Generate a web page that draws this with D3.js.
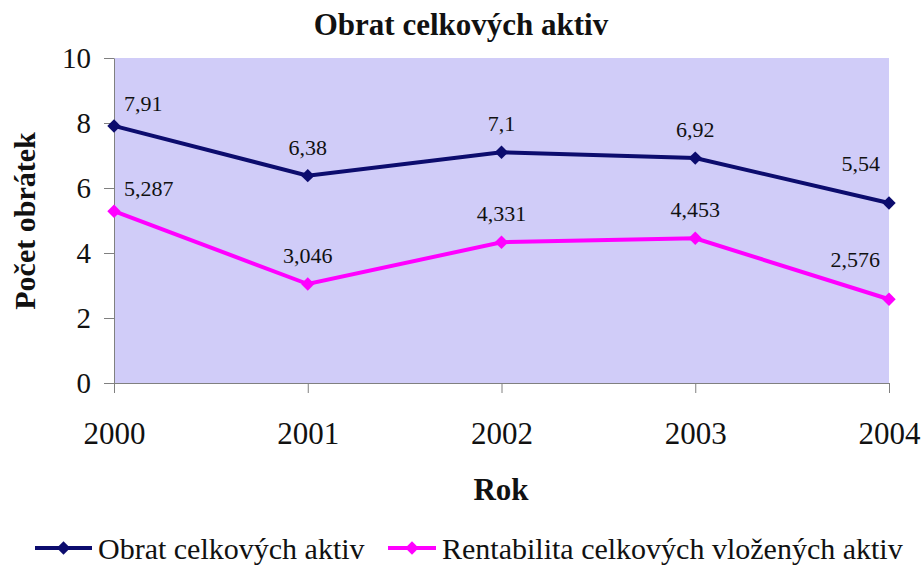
<!DOCTYPE html>
<html>
<head>
<meta charset="utf-8">
<script src="https://cdn.jsdelivr.net/npm/d3@7"></script>
<style>
  body { margin: 0; background: #fff; }
  svg text { font-family: "Liberation Serif", "Times New Roman", serif; fill: #111; }
</style>
</head>
<body>
<div id="chart"></div>
<script>
const years = ['2000', '2001', '2002', '2003', '2004'];
const obratValues = [7.91, 6.38, 7.1, 6.92, 5.54];
const rentabilitaValues = [5.287, 3.046, 4.331, 4.453, 2.576];
const yTicks = [0, 2, 4, 6, 8, 10];
const seriesNames = ['Obrat celkových aktiv', 'Rentabilita celkových vložených aktiv'];
const seriesColors = ['#0c0c6e', '#ff00ff'];

(function() {
    const width = 922, height = 567;
    const margin = {top: 58, right: 33, bottom: 184, left: 114};

    const svg = d3.select('#chart').append('svg')
        .attr('width', width)
        .attr('height', height);

    const x = d3.scalePoint().domain(years).range([margin.left, width - margin.right]);
    const y = d3.scaleLinear().domain([0, 10]).range([height - margin.bottom, margin.top]);

    // plot background
    svg.append('rect')
        .attr('x', margin.left).attr('y', margin.top)
        .attr('width', width - margin.left - margin.right)
        .attr('height', height - margin.top - margin.bottom)
        .attr('fill', '#d0ccf8');

    // y axis
    const yAxis = svg.append('g')
        .attr('transform', `translate(${margin.left},0)`)
        .call(d3.axisLeft(y).tickValues(yTicks).tickSize(10).tickSizeOuter(0).tickPadding(13));
    yAxis.select('.domain').attr('stroke', '#808080');
    yAxis.selectAll('line').attr('stroke', '#808080');
    yAxis.selectAll('text').attr('font-size', 29).attr('font-family', null);

    // x axis
    const xAxis = svg.append('g')
        .attr('transform', `translate(0,${y(0)})`)
        .call(d3.axisBottom(x).tickSize(10).tickSizeOuter(0).tickPadding(29));
    xAxis.select('.domain').attr('stroke', '#808080');
    xAxis.selectAll('line').attr('stroke', '#808080');
    xAxis.selectAll('text').attr('font-size', 31).attr('font-family', null);

    const series = [obratValues, rentabilitaValues];
    const line = d3.line().x((d, i) => x(years[i])).y(d => y(d));
    const marker = d3.symbol().type(d3.symbolSquare).size(90);
    const last = years.length - 1;

    series.forEach((vals, s) => {
        svg.append('path')
            .datum(vals)
            .attr('fill', 'none')
            .attr('stroke', seriesColors[s])
            .attr('stroke-width', 4)
            .attr('d', line);
        svg.selectAll(`.pt${s}`)
            .data(vals)
            .enter().append('path')
            .attr('transform', (d, i) => `translate(${x(years[i])},${y(d)}) rotate(45)`)
            .attr('d', marker)
            .attr('fill', seriesColors[s]);
        // data labels: edge labels kept inside the plot area
        svg.selectAll(`.lbl${s}`)
            .data(vals)
            .enter().append('text')
            .attr('x', (d, i) => x(years[i]) + (i === 0 ? 10 : i === last ? -9 : 0))
            .attr('y', (d, i) => y(d) - (i === 0 ? 15 : i === last ? 32 : 21))
            .attr('text-anchor', (d, i) => i === 0 ? 'start' : i === last ? 'end' : 'middle')
            .attr('font-size', 22)
            .text(d => String(d).replace('.', ','));
    });

    // title
    svg.append('text')
        .attr('x', 461).attr('y', 35)
        .attr('text-anchor', 'middle')
        .attr('font-size', 31).attr('font-weight', 'bold')
        .text('Obrat celkových aktiv');

    // axis titles
    svg.append('text')
        .attr('transform', 'rotate(-90)')
        .attr('x', -221).attr('y', 35)
        .attr('text-anchor', 'middle')
        .attr('font-size', 30).attr('font-weight', 'bold')
        .text('Počet obrátek');

    svg.append('text')
        .attr('x', 501).attr('y', 500)
        .attr('text-anchor', 'middle')
        .attr('font-size', 31).attr('font-weight', 'bold')
        .text('Rok');

    // legend
    const legendItems = [
        {x0: 35, x1: 92, tx: 98},
        {x0: 388, x1: 436, tx: 442}
    ];
    legendItems.forEach((it, i) => {
        const ly = 548;
        svg.append('line')
            .attr('x1', it.x0).attr('x2', it.x1)
            .attr('y1', ly).attr('y2', ly)
            .attr('stroke', seriesColors[i]).attr('stroke-width', 4);
        svg.append('path')
            .attr('transform', `translate(${(it.x0 + it.x1) / 2},${ly}) rotate(45)`)
            .attr('d', marker)
            .attr('fill', seriesColors[i]);
        svg.append('text')
            .attr('x', it.tx).attr('y', ly + 11)
            .attr('font-size', 30)
            .text(seriesNames[i]);
    });
})();
</script>
</body>
</html>
